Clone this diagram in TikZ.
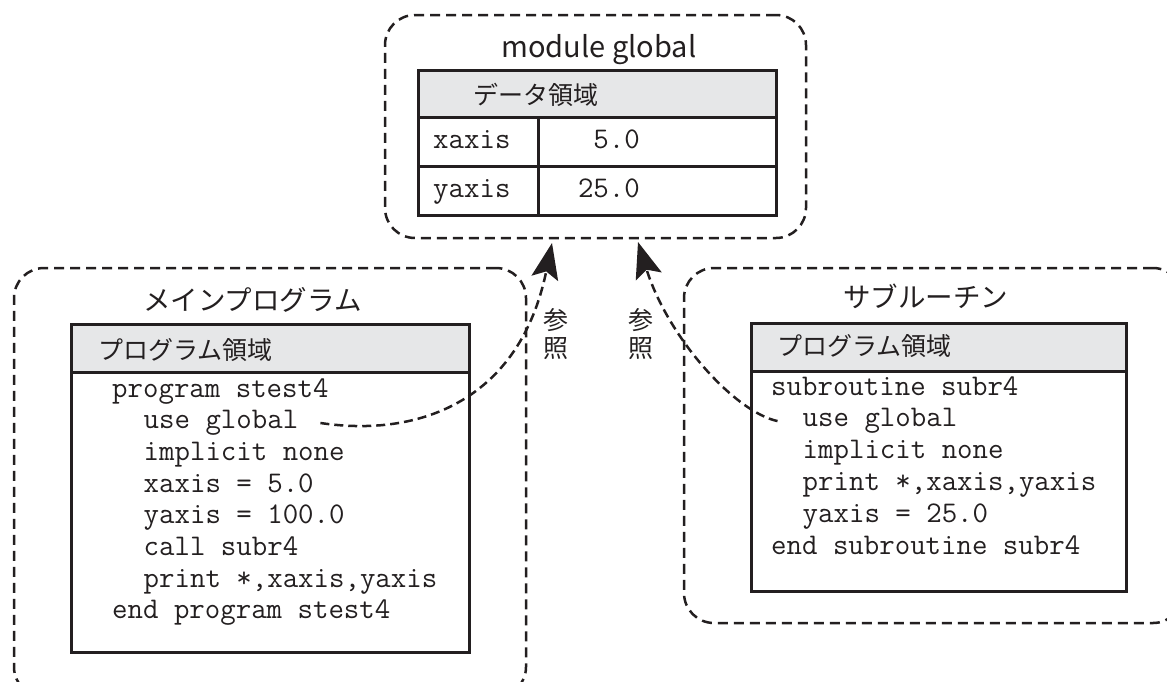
\documentclass[tikz,border=0pt]{standalone}
\usepackage{fontspec}
\setmainfont{Noto Sans CJK JP}
\usetikzlibrary{arrows.meta}
\definecolor{ink}{HTML}{231F20}
\definecolor{hdr}{HTML}{E6E7E8}
\begin{document}
\begin{tikzpicture}[x=1pt,y=-1pt,
  container/.style={draw=ink, line width=2.5pt, dash pattern=on 10pt off 6pt, rounded corners=30pt, inner sep=0pt, outer sep=0pt},
  framebox/.style={draw=ink, line width=3pt},
  code/.style={font=\ttfamily\fontsize{30}{30}\selectfont, anchor=base west, inner sep=0pt, text=ink},
  codee/.style={code, anchor=base east},
  jp/.style={font=\fontsize{25}{25}\selectfont, anchor=base west, inner sep=0pt, text=ink},
  jpbig/.style={font=\fontsize{27.5}{27.5}\selectfont, anchor=base west, inner sep=0pt, text=ink},
  refarrow/.style={draw=ink, line width=2.5pt, dash pattern=on 9pt off 5pt, -{Stealth[length=36pt,width=27pt,inset=7pt]}},
]
\clip (0,0) rectangle (1167,681);
\useasboundingbox (0,0) rectangle (1167,681);

% containers
\node[container, minimum width=421pt, minimum height=223pt] (mod) at (595.5,126.5) {};
\node[container, minimum width=512pt, minimum height=429pt] (mainc) at (270,482.5) {};
\node[container, minimum width=499pt, minimum height=355pt] (subc) at (933.5,445.5) {};

% top table
\fill[hdr] (418,70) rectangle (776,117);
\draw[framebox] (418,70) rectangle (776,215);
\draw[framebox] (418,117) -- (776,117);
\draw[framebox] (418,166) -- (776,166);
\draw[framebox] (538,117) -- (538,215);

% left box
\fill[hdr] (71,324) rectangle (469,372);
\draw[framebox] (71,324) rectangle (469,652);
\draw[framebox] (71,372) -- (469,372);

% right box
\fill[hdr] (751,323) rectangle (1126,371);
\draw[framebox] (751,323) rectangle (1126,591);
\draw[framebox] (751,371) -- (1126,371);

% top texts
\node[font=\fontsize{29}{29}\selectfont, anchor=base, inner sep=0pt, text=ink] (modtitle) at (599,57) {module global};
\node[jp] (datahdr) at (473,104.5) {データ領域};
\node[code] (xname) at (433,148) {xaxis};
\node[codee] (xval) at (640,148) {5.0};
\node[code] (yname) at (433,197) {yaxis};
\node[codee] (yval) at (640,197) {25.0};

% left texts
\node[jpbig] (maintitle) at (143,310) {メインプログラム};
\node[jp] (mainhdr) at (98,359.5) {プログラム領域};
\node[code] (l1) at (112,397) {program stest4};
\node[code] (usegL) at (143.5,428.7) {use global};
\node[code] (l3) at (143.5,460.4) {implicit none};
\node[code] (l4) at (143.5,492.1) {xaxis = 5.0};
\node[code] (l5) at (143.5,523.8) {yaxis = 100.0};
\node[code] (l6) at (143.5,555.5) {call subr4};
\node[code] (l7) at (143.5,587.2) {print *,xaxis,yaxis};
\node[code] (l8) at (112,618.9) {end program stest4};

% right texts
\node[jpbig] (subtitle) at (843,307) {サブルーチン};
\node[jp] (subhdr) at (777,355.5) {プログラム領域};
\node[code] (r1) at (771,395) {subroutine subr4};
\node[code] (usegR) at (802.5,426.8) {use global};
\node[code] (r3) at (802.5,458.6) {implicit none};
\node[code] (r4) at (802.5,490.4) {print *,xaxis,yaxis};
\node[code] (r5) at (802.5,522.2) {yaxis = 25.0};
\node[code] (r6) at (771,554) {end subroutine subr4};

% reference labels
\node[jp] (refL1) at (543,329.5) {参};
\node[jp] (refL2) at (543,357) {照};
\node[jp] (refR1) at (628,329.5) {参};
\node[jp] (refR2) at (628,357) {照};

% arrows
\draw[refarrow] ([xshift=22pt]usegL.east) .. controls (420,438) and (520,400) .. ([xshift=-43.5pt,yshift=-5pt]mod.south);
\draw[refarrow] ([xshift=-25pt]usegR.west) .. controls (735,412) and (668,338) .. ([xshift=42.5pt,yshift=-4pt]mod.south);
\end{tikzpicture}
\end{document}
